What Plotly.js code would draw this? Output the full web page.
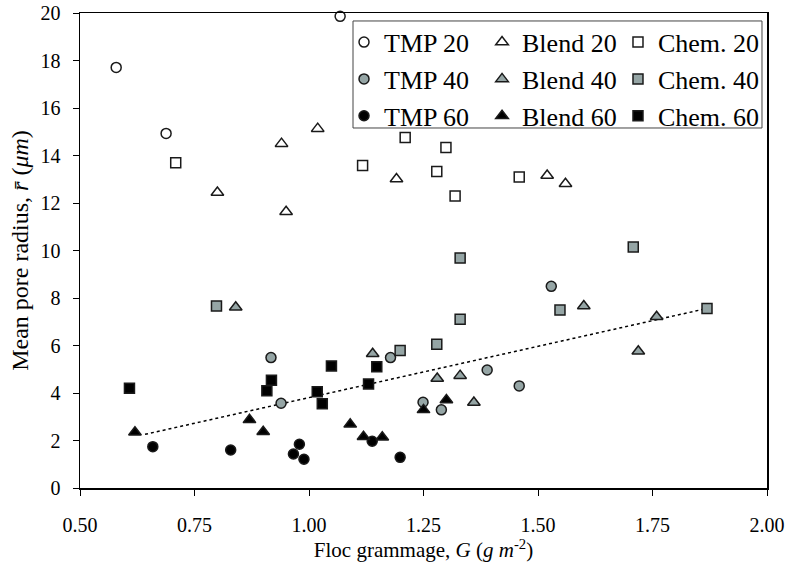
<!DOCTYPE html>
<html>
<head>
<meta charset="utf-8">
<script src="https://cdn.plot.ly/plotly-3.0.1.min.js"></script>
<style>html,body{margin:0;padding:0;background:#fff;}#chart{width:790px;height:565px;}</style>
</head>
<body>
<div id="chart"></div>
<script>
// Data
const tmp20X = [0.579, 0.688, 1.068];
const tmp20Y = [17.71, 14.93, 19.86];
const blend20X = [0.80, 0.94, 0.95, 1.019, 1.191, 1.520, 1.56];
const blend20Y = [12.44, 14.50, 11.63, 15.13, 13.01, 13.16, 12.81];
const chem20X = [0.709, 1.117, 1.21, 1.279, 1.299, 1.319, 1.459];
const chem20Y = [13.70, 13.58, 14.76, 13.33, 14.34, 12.30, 13.09];

const tmp40X = [0.917, 0.939, 1.178, 1.249, 1.289, 1.389, 1.459, 1.529];
const tmp40Y = [5.49, 3.57, 5.49, 3.61, 3.29, 4.97, 4.30, 8.49];
const blend40X = [0.84, 1.139, 1.28, 1.33, 1.36, 1.60, 1.719, 1.759];
const blend40Y = [7.61, 5.65, 4.61, 4.73, 3.60, 7.66, 5.76, 7.21];
const chem40X = [0.798, 1.199, 1.279, 1.33, 1.33, 1.548, 1.708, 1.869];
const chem40Y = [7.66, 5.79, 6.05, 9.68, 7.11, 7.49, 10.15, 7.56];

const tmp60X = [0.659, 0.829, 0.966, 0.979, 0.989, 1.138, 1.199];
const tmp60Y = [1.74, 1.60, 1.43, 1.84, 1.21, 1.97, 1.29];
const blend60X = [0.62, 0.87, 0.90, 1.09, 1.119, 1.16, 1.25, 1.30];
const blend60Y = [2.35, 2.87, 2.37, 2.68, 2.16, 2.14, 3.29, 3.71];
const chem60X = [0.608, 0.908, 0.918, 1.018, 1.029, 1.049, 1.13, 1.148];
const chem60Y = [4.20, 4.10, 4.54, 4.05, 3.55, 5.14, 4.38, 5.11];

const trendX = [0.642, 1.869];
const trendY = [2.26, 7.56];

const xTicks = [0.5, 0.75, 1.0, 1.25, 1.5, 1.75, 2.0];
const xTickText = ['0.50', '0.75', '1.00', '1.25', '1.50', '1.75', '2.00'];
const yTicks = [0, 2, 4, 6, 8, 10, 12, 14, 16, 18, 20];

const WHITE = '#ffffff', GRAY = '#95a5a5', BLACK = '#000000';
const LINE = '#1a1a1a';

function series(name, x, y, symbol, fill, legendId) {
  return {
    type: 'scatter', mode: 'markers', name: name, x: x, y: y,
    legend: legendId,
    marker: {symbol: symbol, size: symbol === 'triangle-up' ? 11 : 10, color: fill,
             line: {color: LINE, width: 1.5}},
    cliponaxis: false
  };
}

const traces = [
  {type: 'scatter', mode: 'lines', x: trendX, y: trendY, showlegend: false,
   line: {color: '#000', width: 1.5, dash: 'dot'}, hoverinfo: 'skip'},
  series('TMP 20', tmp20X, tmp20Y, 'circle', WHITE, 'legend'),
  series('TMP 40', tmp40X, tmp40Y, 'circle', GRAY, 'legend'),
  series('TMP 60', tmp60X, tmp60Y, 'circle', BLACK, 'legend'),
  series('Blend 20', blend20X, blend20Y, 'triangle-up', WHITE, 'legend2'),
  series('Blend 40', blend40X, blend40Y, 'triangle-up', GRAY, 'legend2'),
  series('Blend 60', blend60X, blend60Y, 'triangle-up', BLACK, 'legend2'),
  series('Chem. 20', chem20X, chem20Y, 'square', WHITE, 'legend3'),
  series('Chem. 40', chem40X, chem40Y, 'square', GRAY, 'legend3'),
  series('Chem. 60', chem60X, chem60Y, 'square', BLACK, 'legend3')
];

const serif = "'Liberation Serif', 'Times New Roman', serif";

function legendCol(xPos) {
  return {
    x: xPos, y: 0.988, xanchor: 'left', yanchor: 'top',
    orientation: 'v', bgcolor: 'rgba(0,0,0,0)', borderwidth: 0,
    font: {family: serif, size: 26, color: '#000'},
    itemsizing: 'trace', tracegroupgap: 0
  };
}

const layout = {
  width: 790, height: 565,
  margin: {l: 80, r: 23, t: 13, b: 77},
  paper_bgcolor: '#fff', plot_bgcolor: '#fff',
  font: {family: serif, size: 20, color: '#000'},
  showlegend: true,
  legend: legendCol(0.3843),
  legend2: legendCol(0.5852),
  legend3: legendCol(0.7831),
  shapes: [{
    type: 'rect', xref: 'paper', yref: 'paper',
    x0: 0.3974, x1: 0.9927, y0: 0.7579, y1: 0.9832,
    line: {color: '#444', width: 1}, fillcolor: '#fff', layer: 'below'
  }],
  xaxis: {
    range: [0.5, 2.0], tickvals: xTicks, ticktext: xTickText,
    ticks: 'outside', ticklen: 6, tickwidth: 1, tickcolor: '#000',
    ticklabelstandoff: 12,
    showline: true, linecolor: '#000', linewidth: 1.5, mirror: true,
    showgrid: false, zeroline: false, automargin: false,
    tickfont: {family: serif, size: 20},
    title: {text: 'Floc grammage, <i>G</i> (<i>g m</i><sup>-2</sup>)', font: {family: serif, size: 21}, standoff: 8}
  },
  yaxis: {
    range: [0, 20], tickvals: yTicks,
    ticks: 'outside', ticklen: 6, tickwidth: 1, tickcolor: '#000',
    ticklabelstandoff: 8,
    showline: true, linecolor: '#000', linewidth: 1.5, mirror: true,
    showgrid: false, zeroline: false, automargin: false,
    tickfont: {family: serif, size: 20},
    title: {text: 'Mean pore radius, <i>r\u0304</i> (<i>\u03bcm</i>)', font: {family: serif, size: 24}, standoff: 5}
  }
};

Plotly.newPlot('chart', traces, layout, {displayModeBar: false, staticPlot: true});
</script>
</body>
</html>
